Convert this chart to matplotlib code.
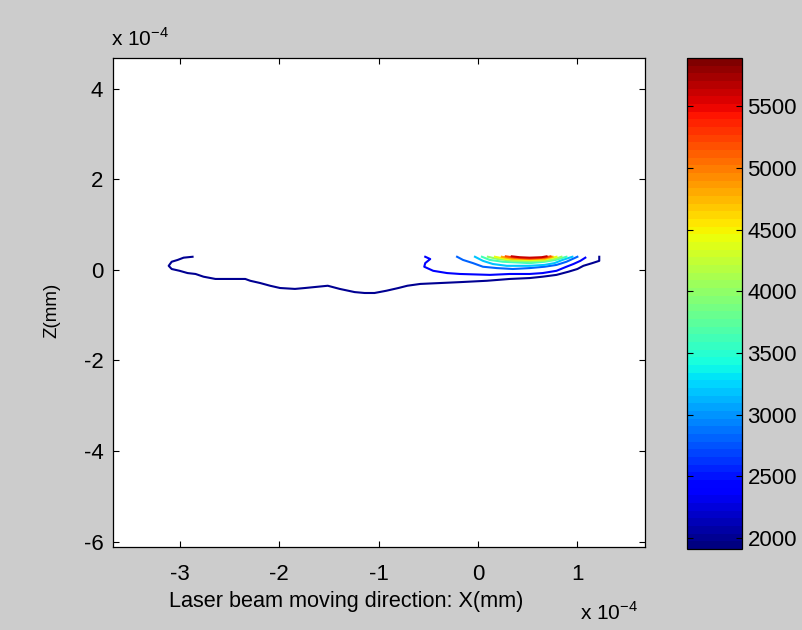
import matplotlib
matplotlib.use("Agg")
import matplotlib.pyplot as plt
import matplotlib as mpl
import numpy as np

plt.rcParams['font.family'] = ['Liberation Sans', 'DejaVu Sans']

# contour levels (temperature) and colour range
levels = [2000, 2400, 2800, 3200, 3600, 4000, 4400, 4800, 5200, 5600]
cmin, cmax = 1911, 5890
cbar_ticks = [2000, 2500, 3000, 3500, 4000, 4500, 5000, 5500]

# contour paths, X and Z in units of 1e-4 mm
x_2000 = [-2.87, -2.96, -3.02, -3.08, -3.11, -3.08, -3.00, -2.92, -2.84, -2.76,
          -2.64, -2.34, -2.29, -2.19, -2.09, -1.99, -1.84, -1.74, -1.51, -1.39,
          -1.24, -1.14, -1.04, -0.92, -0.80, -0.71, -0.58, -0.38, -0.18, 0.09,
          0.32, 0.52, 0.65, 0.79, 0.91, 1.00, 1.06, 1.15, 1.22, 1.22]
z_2000 = [0.29, 0.27, 0.22, 0.18, 0.09, 0.02, -0.02, -0.07, -0.09, -0.15,
          -0.20, -0.20, -0.24, -0.29, -0.35, -0.40, -0.42, -0.40, -0.35, -0.42,
          -0.49, -0.51, -0.51, -0.46, -0.40, -0.35, -0.31, -0.29, -0.27, -0.24,
          -0.20, -0.18, -0.15, -0.11, -0.04, 0.02, 0.09, 0.15, 0.20, 0.29]
x_2400 = [-0.53, -0.48, -0.53, -0.54, -0.45, -0.31, -0.18, 0.12, 0.32, 0.52,
          0.65, 0.79, 0.89, 0.96, 1.03, 1.08]
z_2400 = [0.29, 0.24, 0.15, 0.07, -0.02, -0.07, -0.09, -0.11, -0.09, -0.09,
          -0.07, -0.02, 0.07, 0.13, 0.20, 0.27]
x_2800 = [-0.21, -0.15, -0.05, 0.05, 0.19, 0.35, 0.52, 0.67, 0.79, 0.89, 0.95, 1.00]
z_2800 = [0.29, 0.22, 0.15, 0.07, 0.04, 0.02, 0.04, 0.07, 0.11, 0.18, 0.24, 0.29]
x_3200 = [-0.03, 0.05, 0.15, 0.29, 0.52, 0.67, 0.77, 0.85, 0.95]
z_3200 = [0.29, 0.20, 0.13, 0.09, 0.09, 0.11, 0.15, 0.22, 0.29]
x_3600 = [0.04, 0.12, 0.25, 0.52, 0.67, 0.78, 0.89]
z_3600 = [0.29, 0.22, 0.18, 0.15, 0.18, 0.22, 0.29]
x_4000 = [0.10, 0.20, 0.35, 0.52, 0.67, 0.77, 0.84]
z_4000 = [0.29, 0.24, 0.20, 0.19, 0.20, 0.24, 0.29]
x_4400 = [0.17, 0.29, 0.52, 0.67, 0.79]
z_4400 = [0.29, 0.24, 0.22, 0.23, 0.29]
x_4800 = [0.24, 0.34, 0.52, 0.67, 0.75]
z_4800 = [0.29, 0.25, 0.24, 0.25, 0.29]
x_5200 = [0.28, 0.37, 0.52, 0.67, 0.73]
z_5200 = [0.30, 0.27, 0.25, 0.27, 0.30]
x_5600 = [0.34, 0.42, 0.52, 0.64, 0.69]
z_5600 = [0.30, 0.28, 0.27, 0.28, 0.30]

paths_x = [x_2000, x_2400, x_2800, x_3200, x_3600, x_4000, x_4400, x_4800, x_5200, x_5600]
paths_z = [z_2000, z_2400, z_2800, z_3200, z_3600, z_4000, z_4400, z_4800, z_5200, z_5600]

xticks = [-3, -2, -1, 0, 1]
yticks = [-6, -4, -2, 0, 2, 4]

W, H = 802, 630
fig = plt.figure(figsize=(W / 100, H / 100), dpi=100)
bg = '#cccccc'
fig.patch.set_facecolor(bg)

FS_TICK = 16
FS_XLAB = 15.6
FS_YLAB = 13.5
FS_OFF = 15

ax = fig.add_axes([113 / W, 1 - 547 / H, 532 / W, 489 / H])
cmap = mpl.colormaps['jet'].resampled(64)
norm = mpl.colors.Normalize(vmin=cmin, vmax=cmax)

for lev, xs, zs in zip(levels, paths_x, paths_z):
    ax.plot(xs, zs, color=cmap(norm(lev)), lw=1.5, solid_joinstyle='round')

ax.set_xlim(-3.67, 1.68)
ax.set_ylim(-6.12, 4.68)
ax.set_xticks(xticks)
ax.set_yticks(yticks)
ax.set_xticklabels([str(t) for t in xticks])
ax.set_yticklabels([str(t) for t in yticks])
ax.tick_params(direction='in', length=4, width=0.8, top=True, right=True,
               labelsize=FS_TICK, colors='black')
ax.tick_params(axis='x', pad=12)
ax.tick_params(axis='y', pad=7)
for s in ax.spines.values():
    s.set_linewidth(0.9)

ax.set_xlabel('Laser beam moving direction: X(mm)', fontsize=FS_XLAB)
ax.xaxis.set_label_coords((346 - 113) / 532, (547 - 591) / 489)
ax.xaxis.label.set_va('top')
ax.set_ylabel('Z(mm)', fontsize=FS_YLAB)
ax.yaxis.set_label_coords((60 - 113) / 532, (547 - 310) / 489)

fig.text(111 / W, 1 - 39 / H, r'x 10$^{\mathregular{-4}}$', fontsize=FS_OFF,
         ha='left', va='center')
fig.text(580 / W, 1 - 612 / H, r'x 10$^{\mathregular{-4}}$', fontsize=FS_OFF,
         ha='left', va='center')

cax = fig.add_axes([687 / W, 1 - 549 / H, 55 / W, 491 / H])
sm = mpl.cm.ScalarMappable(norm=norm, cmap=cmap)
cb = fig.colorbar(sm, cax=cax, ticks=cbar_ticks)
cb.ax.tick_params(direction='in', length=4, width=0.8, left=True, right=True,
                  labelsize=FS_TICK, pad=4)
cb.ax.set_yticklabels([str(t) for t in cbar_ticks])
cb.outline.set_linewidth(0.9)

fig.savefig('out.png', dpi=100, facecolor=bg)
